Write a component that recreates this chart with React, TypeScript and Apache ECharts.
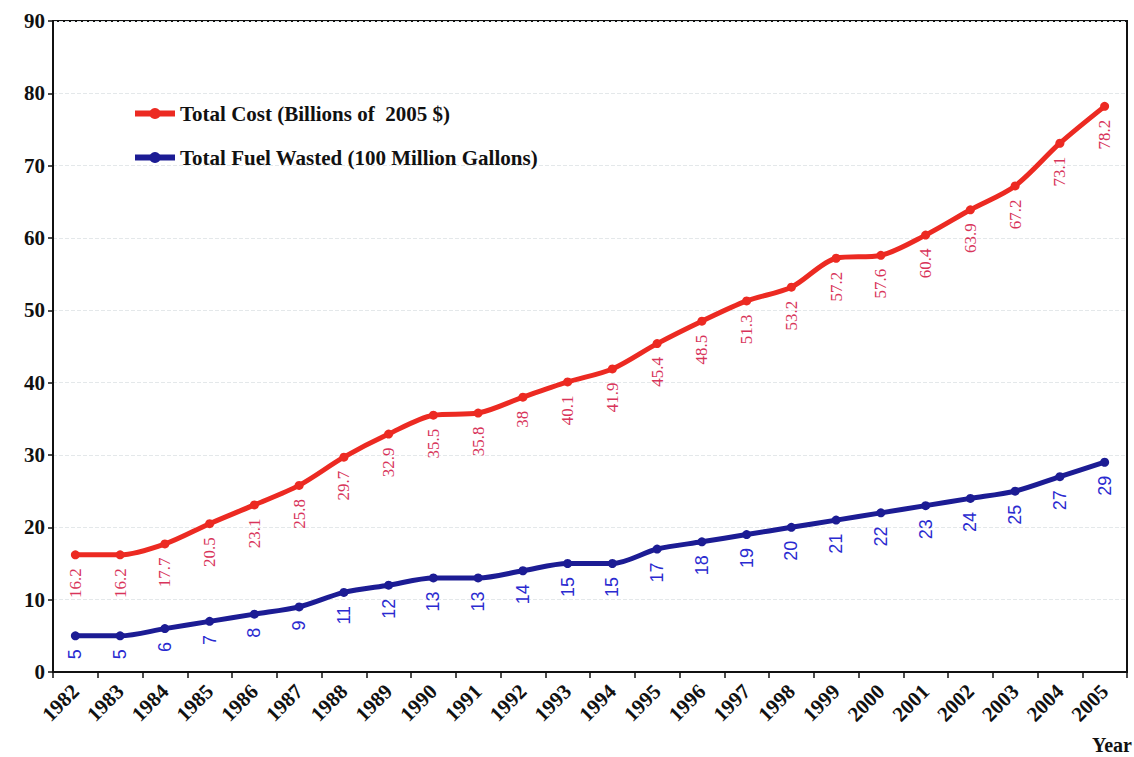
import React, { useEffect, useRef } from "react";
import * as echarts from "echarts";

const years = [
  "1982", "1983", "1984", "1985", "1986", "1987", "1988", "1989", "1990", "1991", "1992", "1993",
  "1994", "1995", "1996", "1997", "1998", "1999", "2000", "2001", "2002", "2003", "2004", "2005",
];

const totalCost = [
  16.2, 16.2, 17.7, 20.5, 23.1, 25.8, 29.7, 32.9, 35.5, 35.8, 38, 40.1,
  41.9, 45.4, 48.5, 51.3, 53.2, 57.2, 57.6, 60.4, 63.9, 67.2, 73.1, 78.2,
];

const fuelWasted = [
  5, 5, 6, 7, 8, 9, 11, 12, 13, 13, 14, 15,
  15, 17, 18, 19, 20, 21, 22, 23, 24, 25, 27, 29,
];

const costName = "Total Cost (Billions of  2005 $)";
const fuelName = "Total Fuel Wasted (100 Million Gallons)";

const SERIF = "'Liberation Serif', 'DejaVu Serif', serif";

export default function App() {
  const ref = useRef<HTMLDivElement>(null);

  useEffect(() => {
    if (!ref.current) return;
    const chart = echarts.init(ref.current, undefined, { renderer: "svg" });
    chart.setOption({
      animation: false,
      backgroundColor: "#ffffff",
      grid: {
        left: 53,
        right: 7,
        top: 21,
        bottom: 85,
        show: true,
        borderColor: "#111111",
        borderWidth: 2,
        backgroundColor: "transparent",
      },
      legend: {
        orient: "vertical",
        left: 127,
        top: 98,
        itemWidth: 40,
        itemHeight: 14,
        itemGap: 23,
        data: [costName, fuelName],
        lineStyle: { width: 6 },
        textStyle: {
          fontFamily: SERIF,
          fontWeight: "bold",
          fontSize: 21,
          color: "#111111",
        },
      },
      xAxis: {
        type: "category",
        data: years,
        boundaryGap: true,
        axisLine: { lineStyle: { color: "#111111", width: 2 } },
        axisTick: { show: true, alignWithLabel: false, length: 6, lineStyle: { color: "#111111", width: 1.5 } },
        axisLabel: {
          interval: 0,
          rotate: 45,
          margin: 16,
          fontFamily: SERIF,
          fontWeight: "bold",
          fontSize: 21,
          color: "#111111",
        },
        splitLine: { show: false },
      },
      yAxis: {
        type: "value",
        min: 0,
        max: 90,
        interval: 10,
        axisLine: { show: true, lineStyle: { color: "#111111", width: 2 } },
        axisTick: { show: true, length: 5, lineStyle: { color: "#111111", width: 1.5 } },
        axisLabel: {
          margin: 8,
          fontFamily: SERIF,
          fontWeight: "bold",
          fontSize: 21,
          color: "#111111",
        },
        splitLine: { show: true, lineStyle: { color: "#e4e8ea", type: "dashed", width: 1 } },
      },
      series: [
        {
          name: costName,
          type: "line",
          data: totalCost,
          smooth: 0.3,
          symbol: "circle",
          symbolSize: 9,
          color: "#ec2a22",
          lineStyle: { width: 5, color: "#ec2a22" },
          itemStyle: { color: "#ec2a22" },
          label: {
            show: true,
            position: "bottom",
            distance: 9,
            rotate: 90,
            align: "right",
            verticalAlign: "middle",
            fontFamily: SERIF,
            fontSize: 17,
            color: "#d8345a",
          },
        },
        {
          name: fuelName,
          type: "line",
          data: fuelWasted,
          smooth: 0.3,
          symbol: "circle",
          symbolSize: 9,
          color: "#1c1c94",
          lineStyle: { width: 5, color: "#1c1c94" },
          itemStyle: { color: "#1c1c94" },
          label: {
            show: true,
            position: "bottom",
            distance: 9,
            rotate: 90,
            align: "right",
            verticalAlign: "middle",
            fontFamily: "'Liberation Sans', Arial, sans-serif",
            fontSize: 18,
            color: "#2a2ad0",
          },
        },
      ],
      graphic: [
        {
          type: "text",
          right: 2,
          top: 735,
          style: {
            text: "Year",
            fontFamily: SERIF,
            fontWeight: "bold",
            fontSize: 20,
            fill: "#111111",
          },
        },
      ],
    });
    return () => chart.dispose();
  }, []);

  return (
    <div
      ref={ref}
      style={{ position: "fixed", left: 0, top: 0, width: 1134, height: 757 }}
    />
  );
}
